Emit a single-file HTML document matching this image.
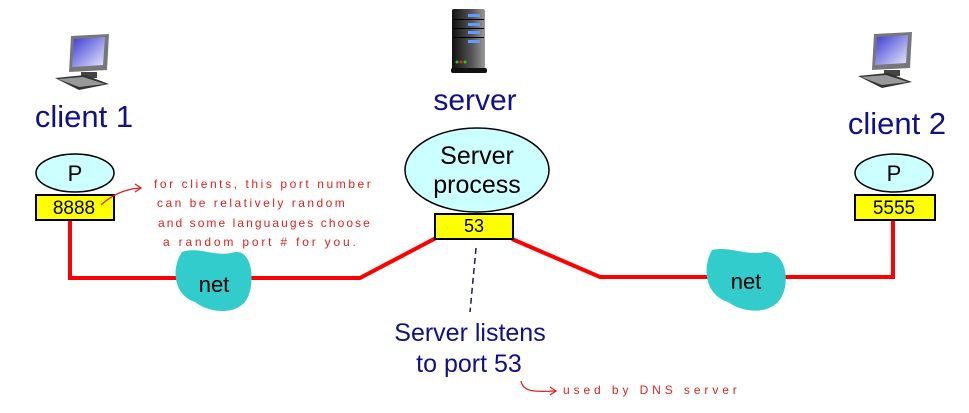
<!DOCTYPE html>
<html><head><style>
body{margin:0;background:#fff;}
svg text{font-family:"Liberation Sans",sans-serif;}
</style></head><body>
<svg width="969" height="408" viewBox="0 0 969 408" xmlns="http://www.w3.org/2000/svg">
<defs>
<linearGradient id="scr" x1="0" y1="0" x2="1" y2="1"><stop offset="0" stop-color="#3a3ad0"/><stop offset="1" stop-color="#e8e8ff"/></linearGradient>
<linearGradient id="srv" x1="0" y1="0" x2="1" y2="0"><stop offset="0" stop-color="#111"/><stop offset="0.6" stop-color="#555"/><stop offset="1" stop-color="#999"/></linearGradient>
<g id="pc">
<polygon points="16,2 54,0 52,36 14,38" fill="#777"/>
<polygon points="19,5 50,3 48,31 17,33" fill="url(#scr)"/>
<rect x="26" y="38" width="16" height="6" fill="#444"/>
<polygon points="0,44 30,41 54,50 24,56" fill="#333"/>
<polygon points="3,45 28,43 50,50 24,53" fill="#999"/>
</g>
</defs>
<polyline points="70,220 70,278 360,278 436,238" fill="none" stroke="#f00" stroke-width="4"/>
<polyline points="512,239 600,277 893,277 893,220" fill="none" stroke="#f00" stroke-width="4"/>
<path d="M182,252 C200,246 215,258 235,252 C255,250 255,290 245,302 C232,316 208,312 195,302 C175,296 170,270 182,252Z" fill="#33cccc"/>
<text x="214" y="292" font-size="22" text-anchor="middle">net</text>
<path d="M712,250 C730,246 745,256 765,252 C790,252 790,290 778,302 C765,315 742,312 728,302 C705,295 702,268 712,250Z" fill="#33cccc"/>
<text x="746" y="289" font-size="22" text-anchor="middle">net</text>
<use href="#pc" x="55" y="34"/>
<use href="#pc" x="858" y="32"/>
<g>
<rect x="452" y="9" width="33" height="62" rx="2" fill="url(#srv)"/>
<rect x="468" y="14" width="12" height="3" fill="#69f"/><rect x="468" y="23" width="12" height="3" fill="#69f"/>
<rect x="468" y="31" width="12" height="3" fill="#69f"/><rect x="468" y="40" width="12" height="3" fill="#69f"/>
<rect x="454" y="19" width="30" height="1" fill="#000"/><rect x="454" y="28" width="30" height="1" fill="#000"/><rect x="454" y="37" width="30" height="1" fill="#000"/>
<circle cx="457" cy="62" r="1.5" fill="#2c2"/><circle cx="461" cy="62" r="1.5" fill="#e22"/><circle cx="465" cy="62" r="1.5" fill="#2c2"/>
<rect x="451" y="68" width="36" height="5" rx="2" fill="#111"/>
</g>
<text x="84" y="127" font-size="31" fill="#10108c" text-anchor="middle">client 1</text>
<text x="897" y="134" font-size="31" fill="#10108c" text-anchor="middle">client 2</text>
<text x="475" y="110" font-size="30" fill="#10108c" text-anchor="middle">server</text>
<ellipse cx="75" cy="173" rx="39" ry="19" fill="#ccffff" stroke="#000" stroke-width="1.5"/>
<text x="75" y="181" font-size="22" text-anchor="middle">P</text>
<rect x="36" y="195" width="78" height="25" fill="#ff0" stroke="#000" stroke-width="2"/>
<text x="74" y="214" font-size="19" text-anchor="middle">8888</text>
<ellipse cx="894" cy="173" rx="39" ry="19" fill="#ccffff" stroke="#000" stroke-width="1.5"/>
<text x="894" y="181" font-size="22" text-anchor="middle">P</text>
<rect x="855" y="195" width="80" height="25" fill="#ff0" stroke="#000" stroke-width="2"/>
<text x="894" y="214" font-size="19" text-anchor="middle">5555</text>
<ellipse cx="477" cy="170" rx="72" ry="42" fill="#ccffff" stroke="#000" stroke-width="1.5"/>
<text x="477" y="164" font-size="25" text-anchor="middle">Server</text>
<text x="477" y="193" font-size="25" text-anchor="middle">process</text>
<rect x="435" y="214" width="78" height="25" fill="#ff0" stroke="#000" stroke-width="2"/>
<text x="474" y="232" font-size="18" text-anchor="middle">53</text>
<line x1="476" y1="248" x2="470" y2="312" stroke="#1a1a60" stroke-width="1.5" stroke-dasharray="6,4"/>
<text x="470" y="341" font-size="25" fill="#10108c" text-anchor="middle">Server listens</text>
<text x="469" y="372" font-size="25" fill="#10108c" text-anchor="middle">to port 53</text>
<path d="M101,205 C112,195 125,189 140,188" fill="none" stroke="#e02020" stroke-width="1.3"/>
<path d="M135,184 L141,188 L135,192" fill="none" stroke="#e02020" stroke-width="1.3"/>
<g fill="#e02020" font-size="12" letter-spacing="2.2">
<text x="154" y="188" textLength="219" lengthAdjust="spacing">for clients, this port number</text>
<text x="157" y="207" textLength="190" lengthAdjust="spacing">can be relatively random</text>
<text x="158" y="227" textLength="214" lengthAdjust="spacing">and some languauges choose</text>
<text x="163" y="246" textLength="195" lengthAdjust="spacing">a random port # for you.</text>
<text x="563" y="394" textLength="176" lengthAdjust="spacing">used by DNS server</text>
</g>
<path d="M521,381 C523,392 535,392 555,391" fill="none" stroke="#e02020" stroke-width="1.3"/>
<path d="M550,387 L556,391 L550,395" fill="none" stroke="#e02020" stroke-width="1.3"/>
</svg>
</body></html>
